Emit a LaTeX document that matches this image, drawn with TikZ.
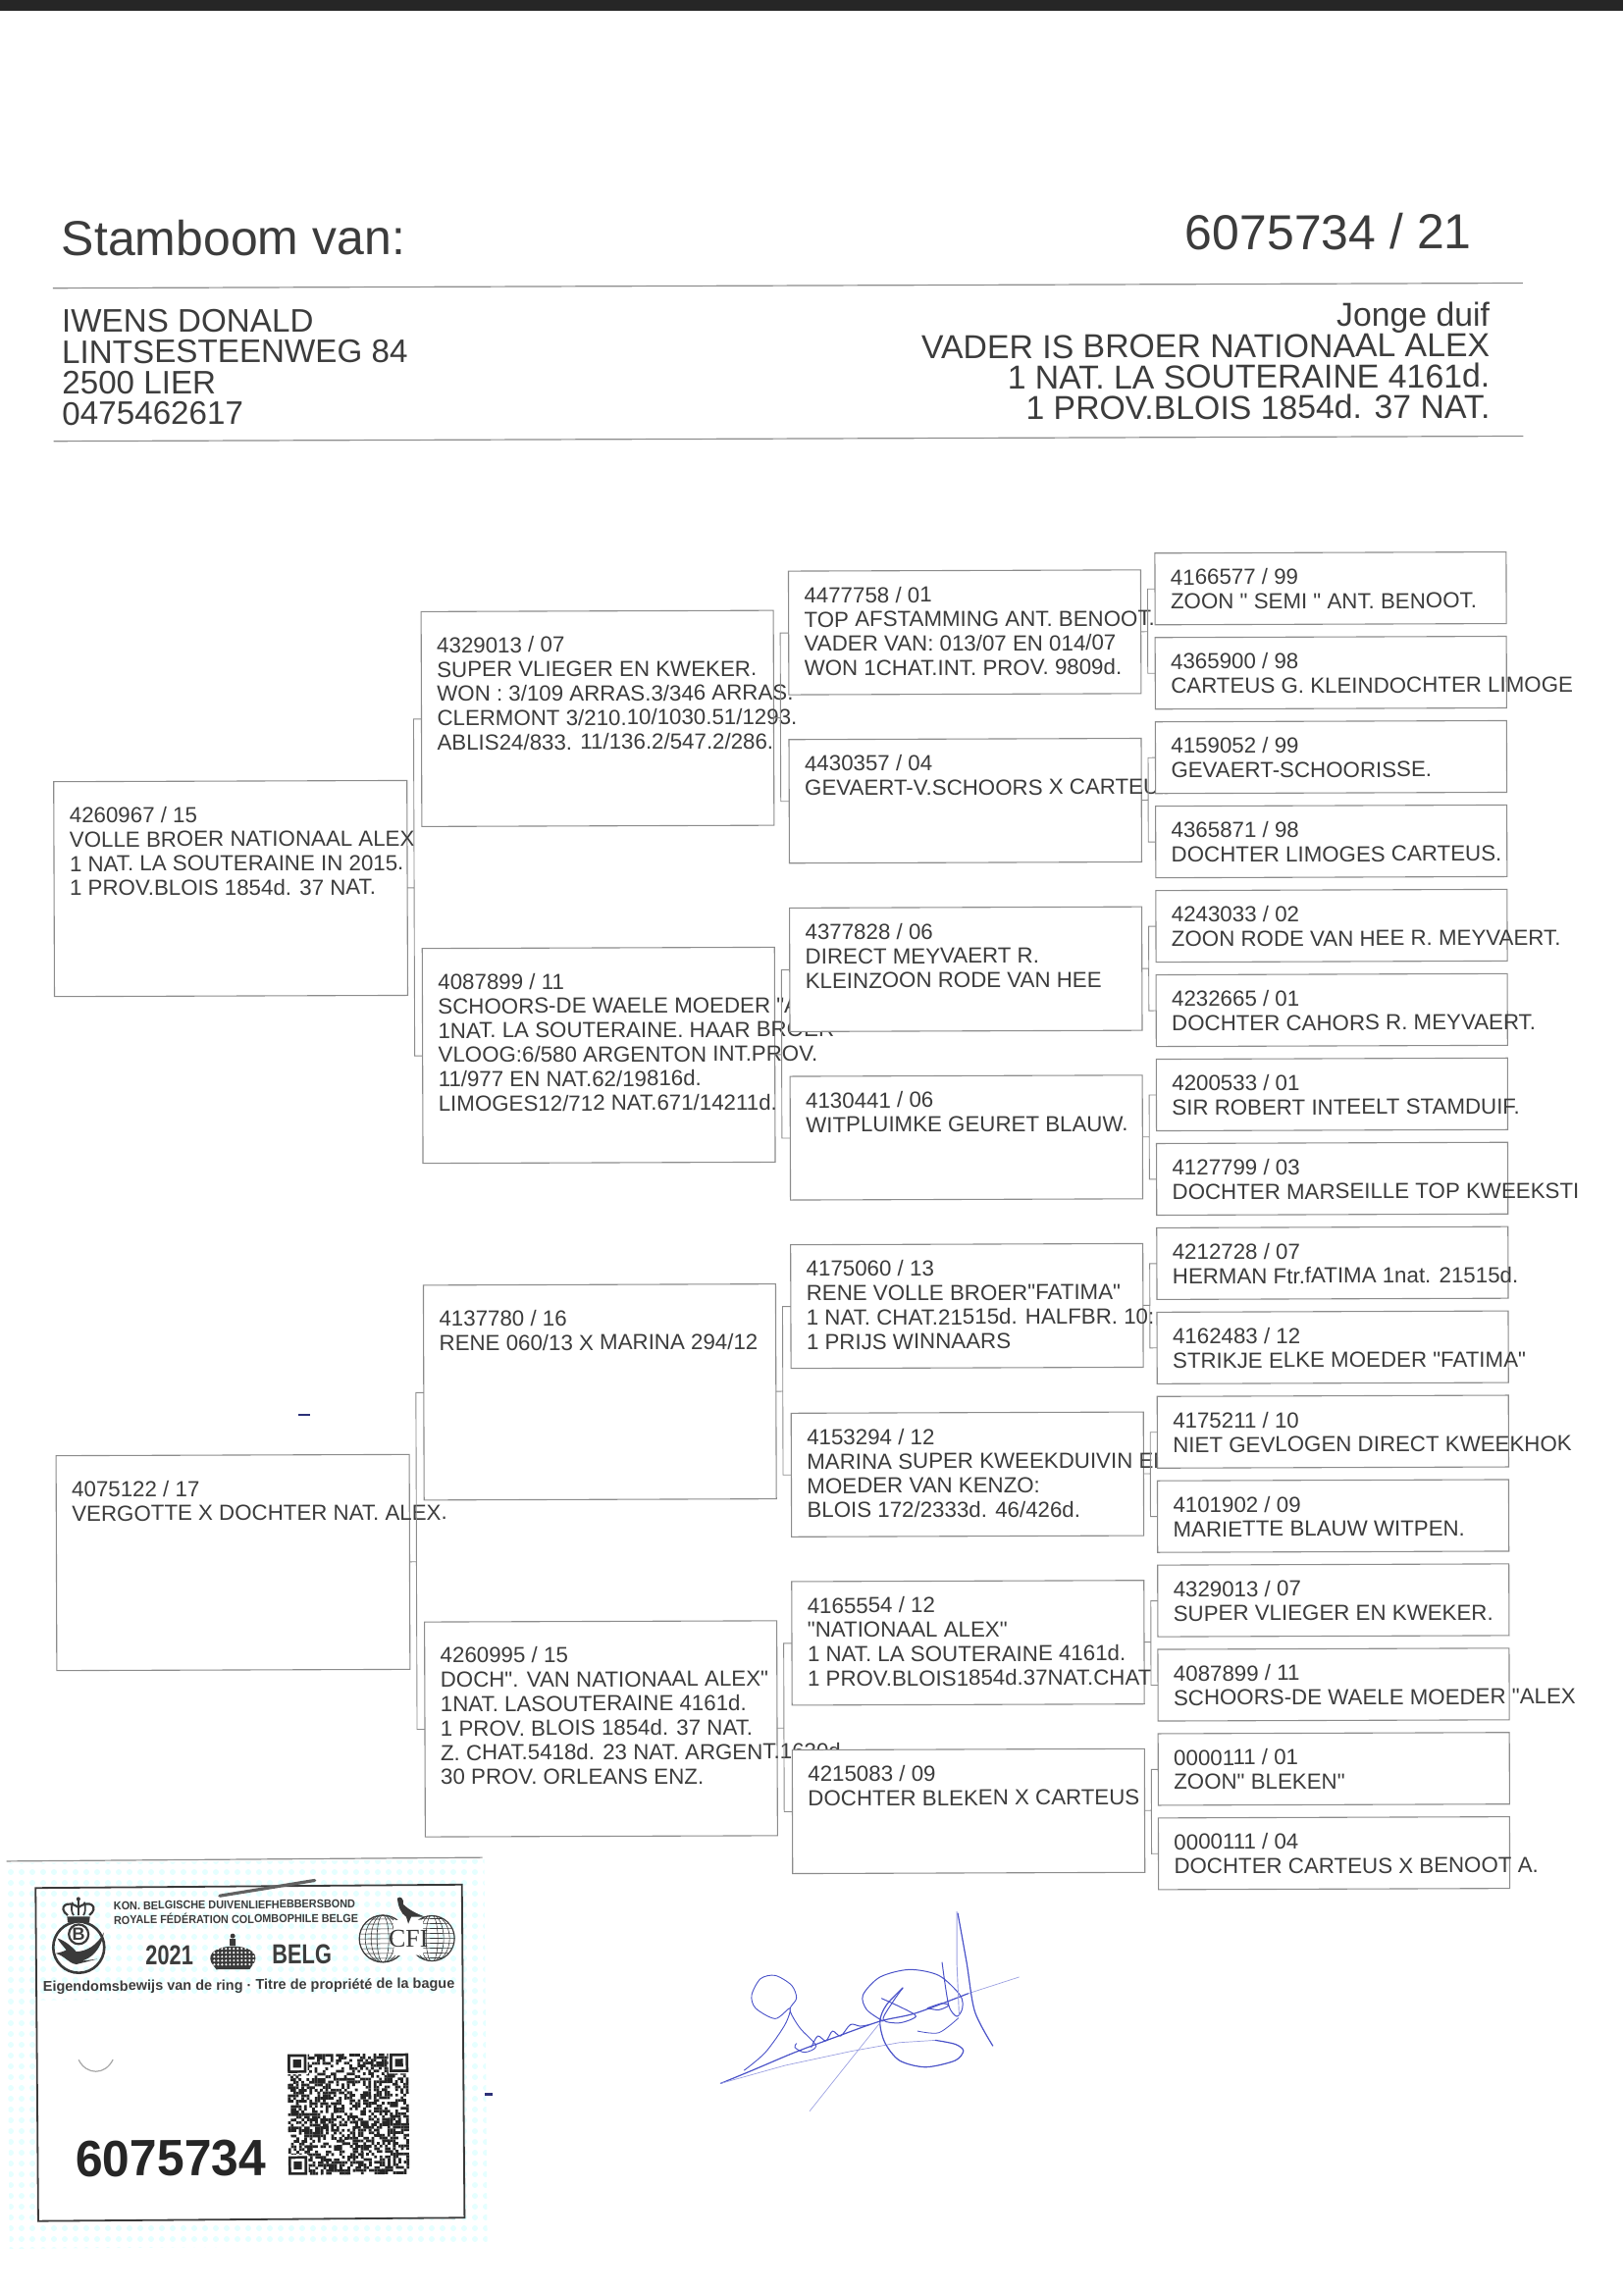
\documentclass[tikz,border=0pt]{standalone}
\usepackage{fontspec}
\setmainfont[Ligatures=TeXOff]{Liberation Sans}
\newfontfamily\serifface{Liberation Serif}
\newfontfamily\headface[FakeStretch=0.92]{Liberation Sans}
\newfontfamily\yearface[FakeStretch=0.78]{Liberation Sans}
\newfontfamily\numface[FakeStretch=0.96]{Liberation Sans}
\usetikzlibrary{positioning,patterns.meta}
\definecolor{ink}{HTML}{3C3C3C}
\definecolor{rim}{HTML}{8C8C8C}
\definecolor{card}{HTML}{3A3A3A}
\definecolor{pen}{HTML}{4A52C8}

\begin{document}
\begin{tikzpicture}[
    x=0.5pt,y=-0.5pt,
    every node/.style={text=ink,inner sep=0pt,outer sep=0pt},
    pedfont/.style={font=\fontsize{11.15}{12.4}\selectfont},
    genbox/.style={draw=rim,line width=0.55pt,fill=white,anchor=north west},
    boxa/.style={genbox,minimum width=180pt,minimum height=109.5pt},
    boxb/.style={genbox,minimum width=179.5pt,minimum height=109.5pt},
    boxc/.style={genbox,minimum width=179.5pt,minimum height=63pt},
    boxd/.style={genbox,minimum width=179pt,minimum height=36.5pt},
    pedtext/.style={pedfont,anchor=north west,align=left,xshift=8pt},
    lowtext/.style={pedtext,yshift=-12.9pt},
    hightext/.style={pedtext,yshift=-8.1pt},
    link/.style={draw=rim,line width=0.45pt},
    rulingline/.style={draw=rim,line width=0.6pt},
    title/.style={font=\fontsize{25}{30}\selectfont},
    owner/.style={font=\fontsize{16.6}{15.7}\selectfont},
    remark/.style={font=\fontsize{16.9}{15.7}\selectfont},
    zoomed/.style={x=0.1667pt,y=-0.1667pt},
    stroke/.style={draw=pen,line width=0.6pt,line cap=round,line join=round},
    faint/.style={draw=pen!55,line width=0.35pt,line cap=round}
]
\useasboundingbox (0,0) rectangle (1654,2337);

% Scanner edge
\fill[black!85] (0,0) rectangle (1654,11);

\begin{scope}[rotate around={0.2:(827,1168)},transform shape]

% Header
\node[title,anchor=base west] (head) at (66,258) {Stamboom van:};
\node[title,anchor=base east] (ring) at (1503,256) {6075734 / 21};
\draw[rulingline] (57,291) -- (1555,291);
\node[owner,anchor=north west,align=left] (owner) at (66,313) {IWENS DONALD\\LINTSESTEENWEG 84\\2500 LIER\\0475462617};
\node[remark,anchor=north east,align=right] (note) at (1521,310) {Jonge duif\\VADER IS BROER NATIONAAL ALEX\\1 NAT. LA SOUTERAINE 4161d.\\1 PROV.BLOIS 1854d. 37 NAT.};
\draw[rulingline] (57,447) -- (1555,447);

% Parents
\node[boxa] (a1) at (56,794) {};
\node[lowtext] (a1t) at (a1.north west) {4260967 / 15\\VOLLE BROER NATIONAAL ALEX\\1 NAT. LA SOUTERAINE IN 2015.\\1 PROV.BLOIS 1854d. 37 NAT.};
\node[boxa,below=234pt of a1] (a2) {};
\node[lowtext] (a2t) at (a2.north west) {4075122 / 17\\VERGOTTE X DOCHTER NAT. ALEX.};

% Grandparents
\node[boxb] (b1) at (431,622) {};
\node[lowtext] (b1t) at (b1.north west) {4329013 / 07\\SUPER VLIEGER EN KWEKER.\\WON : 3/109 ARRAS.3/346 ARRAS.\\CLERMONT 3/210.10/1030.51/1293.\\ABLIS24/833. 11/136.2/547.2/286.};
\node[boxb,below=62.15pt of b1] (b2) {};
\node[lowtext] (b2t) at (b2.north west) {4087899 / 11\\SCHOORS-DE WAELE MOEDER "ALEX\\1NAT. LA SOUTERAINE. HAAR BROER\\VLOOG:6/580 ARGENTON INT.PROV.\\11/977 EN NAT.62/19816d.\\LIMOGES12/712 NAT.671/14211d.};
\node[boxb,below=62.15pt of b2] (b3) {};
\node[lowtext] (b3t) at (b3.north west) {4137780 / 16\\RENE 060/13 X MARINA 294/12};
\node[boxb,below=62.15pt of b3] (b4) {};
\node[lowtext] (b4t) at (b4.north west) {4260995 / 15\\DOCH". VAN NATIONAAL ALEX"\\1NAT. LASOUTERAINE 4161d.\\1 PROV. BLOIS 1854d. 37 NAT.\\Z. CHAT.5418d. 23 NAT. ARGENT.1630d.\\30 PROV. ORLEANS ENZ.};

% Third column
\node[boxc] (c1) at (805.5,582) {};
\node[hightext] (c1t) at (c1.north west) {4477758 / 01\\TOP AFSTAMMING ANT. BENOOT.\\VADER VAN: 013/07 EN 014/07\\WON 1CHAT.INT. PROV. 9809d.};
\node[boxc,below=22.85pt of c1] (c2) {};
\node[hightext] (c2t) at (c2.north west) {4430357 / 04\\GEVAERT-V.SCHOORS X CARTEUS.};
\node[boxc,below=22.85pt of c2] (c3) {};
\node[hightext] (c3t) at (c3.north west) {4377828 / 06\\DIRECT MEYVAERT R.\\KLEINZOON RODE VAN HEE};
\node[boxc,below=22.85pt of c3] (c4) {};
\node[hightext] (c4t) at (c4.north west) {4130441 / 06\\WITPLUIMKE GEURET BLAUW.};
\node[boxc,below=22.85pt of c4] (c5) {};
\node[hightext] (c5t) at (c5.north west) {4175060 / 13\\RENE VOLLE BROER"FATIMA"\\1 NAT. CHAT.21515d. HALFBR. 10:\\1 PRIJS WINNAARS};
\node[boxc,below=22.85pt of c5] (c6) {};
\node[hightext] (c6t) at (c6.north west) {4153294 / 12\\MARINA SUPER KWEEKDUIVIN EN.\\MOEDER VAN KENZO:\\BLOIS 172/2333d. 46/426d.};
\node[boxc,below=22.85pt of c6] (c7) {};
\node[hightext] (c7t) at (c7.north west) {4165554 / 12\\"NATIONAAL ALEX"\\1 NAT. LA SOUTERAINE 4161d.\\1 PROV.BLOIS1854d.37NAT.CHAT};
\node[boxc,below=22.85pt of c7] (c8) {};
\node[hightext] (c8t) at (c8.north west) {4215083 / 09\\DOCHTER BLEKEN X CARTEUS};

% Last column
\node[boxd] (d1) at (1179,565) {};
\node[hightext] (d1t) at (d1.north west) {4166577 / 99\\ZOON " SEMI " ANT. BENOOT.};
\node[boxd,below=6.5pt of d1] (d2) {};
\node[hightext] (d2t) at (d2.north west) {4365900 / 98\\CARTEUS G. KLEINDOCHTER LIMOGE};
\node[boxd,below=6.5pt of d2] (d3) {};
\node[hightext] (d3t) at (d3.north west) {4159052 / 99\\GEVAERT-SCHOORISSE.};
\node[boxd,below=6.5pt of d3] (d4) {};
\node[hightext] (d4t) at (d4.north west) {4365871 / 98\\DOCHTER LIMOGES CARTEUS.};
\node[boxd,below=6.5pt of d4] (d5) {};
\node[hightext] (d5t) at (d5.north west) {4243033 / 02\\ZOON RODE VAN HEE R. MEYVAERT.};
\node[boxd,below=6.5pt of d5] (d6) {};
\node[hightext] (d6t) at (d6.north west) {4232665 / 01\\DOCHTER CAHORS R. MEYVAERT.};
\node[boxd,below=6.5pt of d6] (d7) {};
\node[hightext] (d7t) at (d7.north west) {4200533 / 01\\SIR ROBERT INTEELT STAMDUIF.};
\node[boxd,below=6.5pt of d7] (d8) {};
\node[hightext] (d8t) at (d8.north west) {4127799 / 03\\DOCHTER MARSEILLE TOP KWEEKSTI};
\node[boxd,below=6.5pt of d8] (d9) {};
\node[hightext] (d9t) at (d9.north west) {4212728 / 07\\HERMAN Ftr.fATIMA 1nat. 21515d.};
\node[boxd,below=6.5pt of d9] (d10) {};
\node[hightext] (d10t) at (d10.north west) {4162483 / 12\\STRIKJE ELKE MOEDER "FATIMA"};
\node[boxd,below=6.5pt of d10] (d11) {};
\node[hightext] (d11t) at (d11.north west) {4175211 / 10\\NIET GEVLOGEN DIRECT KWEEKHOK};
\node[boxd,below=6.5pt of d11] (d12) {};
\node[hightext] (d12t) at (d12.north west) {4101902 / 09\\MARIETTE BLAUW WITPEN.};
\node[boxd,below=6.5pt of d12] (d13) {};
\node[hightext] (d13t) at (d13.north west) {4329013 / 07\\SUPER VLIEGER EN KWEKER.};
\node[boxd,below=6.5pt of d13] (d14) {};
\node[hightext] (d14t) at (d14.north west) {4087899 / 11\\SCHOORS-DE WAELE MOEDER "ALEX};
\node[boxd,below=6.5pt of d14] (d15) {};
\node[hightext] (d15t) at (d15.north west) {0000111 / 01\\ZOON" BLEKEN"};
\node[boxd,below=6.5pt of d15] (d16) {};
\node[hightext] (d16t) at (d16.north west) {0000111 / 04\\DOCHTER CARTEUS X BENOOT A.};

% Brackets
\draw[link] (a1.east) -- ++(7,0) coordinate (m) |- (b1.west) (m) |- (b2.west);
\draw[link] (a2.east) -- ++(7,0) coordinate (m) |- (b3.west) (m) |- (b4.west);
\draw[link] (b1.east) -- ++(7,0) coordinate (m) |- (c1.west) (m) |- (c2.west);
\draw[link] (b2.east) -- ++(7,0) coordinate (m) |- (c3.west) (m) |- (c4.west);
\draw[link] (b3.east) -- ++(7,0) coordinate (m) |- (c5.west) (m) |- (c6.west);
\draw[link] (b4.east) -- ++(7,0) coordinate (m) |- (c7.west) (m) |- (c8.west);
\draw[link] (c1.east) -- ++(7,0) coordinate (m) |- (d1.west) (m) |- (d2.west);
\draw[link] (c2.east) -- ++(7,0) coordinate (m) |- (d3.west) (m) |- (d4.west);
\draw[link] (c3.east) -- ++(7,0) coordinate (m) |- (d5.west) (m) |- (d6.west);
\draw[link] (c4.east) -- ++(7,0) coordinate (m) |- (d7.west) (m) |- (d8.west);
\draw[link] (c5.east) -- ++(7,0) coordinate (m) |- (d9.west) (m) |- (d10.west);
\draw[link] (c6.east) -- ++(7,0) coordinate (m) |- (d11.west) (m) |- (d12.west);
\draw[link] (c7.east) -- ++(7,0) coordinate (m) |- (d13.west) (m) |- (d14.west);
\draw[link] (c8.east) -- ++(7,0) coordinate (m) |- (d15.west) (m) |- (d16.west);
\end{scope}

% Ring card
\begin{scope}[rotate around={0.45:(250,2080)},transform shape]
\fill[pattern={Dots[distance=5.5pt,radius=1.5pt]},pattern color=cyan!10] (8,1897) rectangle (495,2290);
\fill[white] (37,2037) rectangle (472,2262);
\draw[draw=rim,line width=0.6pt] (8,1895) -- (493,1895);
\draw[draw=card,line width=0.9pt] (37.5,1922.5) rectangle (472,2262);

\node[font=\headface\bfseries\fontsize{5.9}{7.4}\selectfont,align=left,anchor=north west] (bond) at (117,1937) {KON. BELGISCHE DUIVENLIEFHEBBERSBOND\\ROYALE FÉDÉRATION COLOMBOPHILE BELGE};
\node[font=\yearface\bfseries\fontsize{14}{14}\selectfont,anchor=base west] (year) at (149,2002) {2021};
\node[font=\yearface\bfseries\fontsize{14}{14}\selectfont,anchor=base west] (belg) at (278,2002) {BELG};
\node[font=\bfseries\fontsize{7.25}{8}\selectfont,anchor=base] (title2) at (254,2028) {Eigendomsbewijs van de ring · Titre de propriété de la bague};
\node[font=\numface\bfseries\fontsize{26}{26}\selectfont,text=black!85,anchor=base west] (number) at (76,2217) {6075734};

% Federation badge
\begin{scope}[shift={(50,1920)},zoomed]
\draw[card,line width=1.3pt] (93,190) circle (78);
\fill[white] (93,150) circle (35);
\draw[card,line width=1.1pt] (93,150) circle (30);
\node[font=\bfseries\fontsize{9}{9}\selectfont] (bb) at (93,150) {B};
\fill[card] (28,162) .. controls (50,168) and (75,190) .. (85,203) .. controls (115,203) and (150,185) .. (170,145) .. controls (162,198) and (130,225) .. (100,232) -- (150,226) -- (85,242) .. controls (60,238) and (50,215) .. (22,208) .. controls (40,205) and (50,200) .. (55,198) .. controls (45,185) and (35,175) .. cycle;
% crown
\fill[card] (60,114) -- (126,114) -- (128,96) -- (58,96) -- cycle;
\draw[card,line width=1.1pt] (60,92) .. controls (28,68) and (58,42) .. (93,68) .. controls (128,42) and (158,68) .. (126,92);
\draw[card,line width=0.9pt] (93,42) -- (93,92) (75,52) .. controls (70,70) and (72,85) .. (78,92) (111,52) .. controls (116,70) and (114,85) .. (108,92);
\fill[card] (93,42) circle (6);
\end{scope}

% Crown between year and country
\fill[card] (216,2000) .. controls (206,1978) and (270,1978) .. (260,2000) -- (255,2007) -- (221,2007) -- cycle;
\fill[card] (238,1973) circle (2.5) (235,1976) rectangle (241,1983);
\foreach \cx in {219,223,...,259}
  \foreach \cy in {1986,1990,1994,1998,2002}
    \fill[white] (\cx,\cy) circle (1.2);

% Globes and pigeon
\begin{scope}
\clip (391,1977) circle (24) (441,1977) circle (23);
\foreach \gx in {391,441} {
  \foreach \gr in {6,12,18,24}
    \draw[card,line width=0.3pt] (\gx,1977) ellipse ({\gr} and 24);
  \foreach \gy in {-20,-15,...,20}
    \draw[card,line width=0.3pt] (\gx-24,1977+\gy) -- (\gx+24,1977+\gy);
}
\end{scope}
\draw[card,line width=0.6pt] (391,1977) circle (24) (441,1977) circle (23);
\fill[white] (402,1958) rectangle (432,1994);
\node[font=\serifface\fontsize{13}{13}\selectfont,text=card] (cfi) at (417,1977) {CFI};
\fill[card] (406,1936) .. controls (409,1933) and (413,1936) .. (412,1942) .. controls (418,1948) and (426,1952) .. (434,1955) -- (420,1955) -- (417,1962) -- (415,1955) .. controls (409,1951) and (407,1944) .. cycle;

% Pen mark and dent
\draw[card!80,line width=1.6pt,line cap=round] (225,1932) -- (322,1917);
\draw[black!35,line width=0.6pt] (80,2098) .. controls (88,2114) and (107,2114) .. (115,2098);

% QR code
\begin{scope}[shift={(293,2094)},x=1.367pt,y=-1.367pt]
\pgfmathsetseed{2021}
\foreach \qr in {0,...,44}
  \foreach \qc in {0,...,44} {
    \pgfmathrandominteger{\qbit}{0}{99}
    \ifnum\qbit<54 \fill[black!85] (\qc,\qr) rectangle ++(1.02,1.02); \fi
  }
\foreach \qx/\qy in {0/0,38/0,0/38} {
  \fill[white] (\qx-0.5,\qy-0.5) rectangle ++(8,8);
  \fill[black!85] (\qx,\qy) rectangle ++(7,7);
  \fill[white] (\qx+1,\qy+1) rectangle ++(5,5);
  \fill[black!85] (\qx+2,\qy+2) rectangle ++(3,3);
}
\end{scope}
\end{scope}

% Signature
\begin{scope}[shift={(700,1900)},zoomed]
\draw[stroke] plot[smooth] coordinates {(103,670) (200,630) (330,575) (450,530) (590,480) (700,455) (860,395)};
\draw[faint] (860,395) -- (1015,345);
\draw[stroke,line width=0.45pt] plot[smooth] coordinates {(175,630) (240,575) (300,490) (315,440) (270,472) (210,440) (198,400) (225,350) (270,340) (320,370) (335,410) (315,445) (345,500) (395,555) (360,575) (330,560) (335,548)};
\draw[stroke,line width=0.5pt] plot[smooth] coordinates {(380,560) (400,525) (425,540) (445,510) (470,525) (500,490) (530,495) (560,490)};
\draw[faint] (103,670) -- (300,615) -- (500,572) -- (650,545) -- (760,538);
\draw[stroke] plot[smooth] coordinates {(760,538) (820,550) (845,570) (820,600) (730,620) (650,600) (605,545) (590,480) (610,430) (660,378)};
\draw[stroke,line width=0.5pt] plot[smooth] coordinates {(660,378) (630,420) (600,475) (650,485) (700,465) (660,440) (595,410)};
\draw[stroke,line width=0.5pt] plot[smooth] coordinates {(600,480) (550,445) (538,400) (590,345) (680,322) (770,340) (835,400) (842,440) (825,465) (800,430) (780,300)};
\draw[faint] (590,485) -- (375,755);
\draw[faint,line width=0.45pt] (825,145) -- (825,300) -- (832,460);
\draw[stroke] plot[smooth] coordinates {(828,150) (855,300) (880,450) (935,555)};
\draw[stroke,line width=0.4pt] plot[smooth] coordinates {(705,510) (770,515) (830,470)};
\draw[stroke,line width=0.5pt] plot[smooth] coordinates {(735,440) (780,425) (800,432) (770,445) (735,440)};
\end{scope}

% Specks
\fill[pen!60!black] (304,1441) rectangle (316,1443);
\fill[pen!60!black] (494,2133) rectangle (502,2136);
\end{tikzpicture}
\end{document}
